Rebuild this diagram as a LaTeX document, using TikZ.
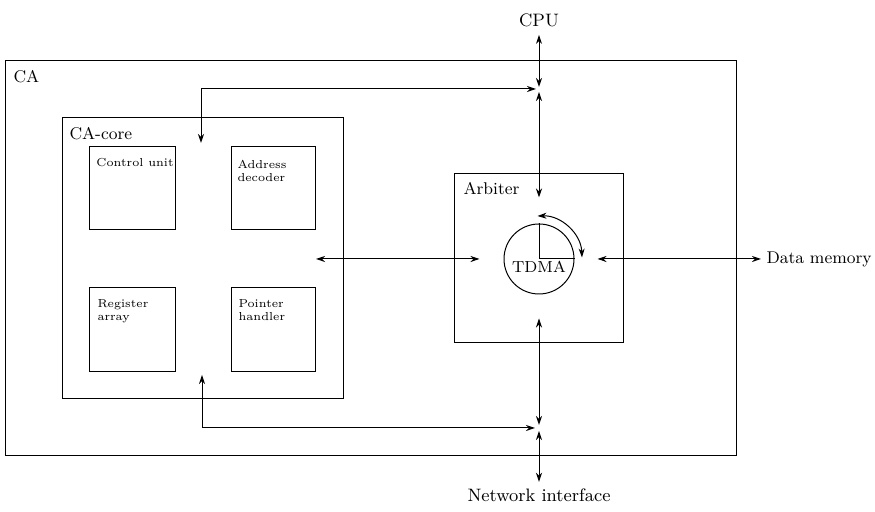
\documentclass[tikz,border=0pt]{standalone}
\usetikzlibrary{arrows.meta,fit,calc}
\begin{document}
\begin{tikzpicture}[x=0.5pt,y=0.5pt, line width=0.5pt,
  box/.style={draw, inner sep=0pt},
  lbl/.style={anchor=base west, inner sep=0pt, font=\fontsize{8.5}{10}\selectfont},
  small/.style={anchor=north west, inner sep=0pt, align=left, font=\fontsize{5.8}{6.3}\selectfont},
  ext/.style={inner sep=0pt, font=\fontsize{9}{11}\selectfont},
  arr/.style={{Stealth[length=4.5pt,width=3pt,inset=1.4pt]}-{Stealth[length=4.5pt,width=3pt,inset=1.4pt]}}]
\useasboundingbox (0,0) rectangle (875,512);

% boxes
\node[box, fit={(5,56)(736,451)}] (ca) {};
\node[box, fit={(62,113)(343,394)}] (core) {};
\node[box, fit={(89,282)(175,365)}] (cu) {};
\node[box, fit={(231,282)(315,365)}] (ad) {};
\node[box, fit={(89,140)(175,224)}] (ra) {};
\node[box, fit={(231,140)(315,224)}] (ph) {};
\node[box, fit={(454,169)(623,338)}] (arb) {};

% labels
\node[lbl] (calbl) at (13,429) {CA};
\node[lbl] (corelbl) at (69,372) {CA-core};
\node[lbl] (arblbl) at (463,317) {Arbiter};
\node[small] (cutxt) at (96,354) {Control unit};
\node[small] (adtxt) at (237,352) {Address\\decoder};
\node[small] (ratxt) at (97,213) {Register\\array};
\node[small] (phtxt) at (238,213) {Pointer\\handler};

% TDMA
\node[draw, circle, minimum size=35pt, inner sep=0pt] (tdma) at (539,253) {};
\draw (tdma.center) -- (tdma.north);
\draw (tdma.center) -- (tdma.east);
\node[inner sep=0pt, anchor=base, font=\fontsize{8}{10}\selectfont] (tdmalbl) at (539,239) {TDMA};
\draw[arr] ([shift={(92:21.5pt)}]tdma.center) arc[start angle=92, end angle=2, radius=21.5pt];

% external
\node[ext, anchor=base] (cpu) at (539,485) {CPU};
\node[ext, anchor=base west, font=\fontsize{8.5}{10}\selectfont] (dm) at (766,248) {Data memory};
\node[ext, anchor=base] (ni) at (539,10) {Network interface};

% junctions and free ends
\coordinate (jt) at (539,423);
\coordinate (jb) at (539,84);
\coordinate (ctop) at (201,369);
\coordinate (cbot) at (202,137);
\coordinate (hl) at (316,253);

% connectors
\draw[arr] ($(jt)+(0,2)$) -- ([yshift=-3.5pt]cpu.south);
\draw[arr] (ctop) |- ($(jt)+(-3,0)$);
\draw[arr] ($(jt)+(0,-3)$) -- ($(jt|-arb.north)+(0,-24)$);
\draw[arr] ($(jb|-arb.south)+(0,25)$) -- ($(jb)+(0,3)$);
\draw[arr] (cbot) |- ($(jb)+(-4,0)$);
\draw[arr] ($(jb)+(0,-3)$) -- ([yshift=3.5pt]ni.north);
\draw[arr] (hl) -- ($(tdma.west)+(-24,0)$);
\draw[arr] ($(tdma.east)+(23,0)$) -- ([xshift=-2.5pt]tdma.east -| dm.west);
\end{tikzpicture}
\end{document}
